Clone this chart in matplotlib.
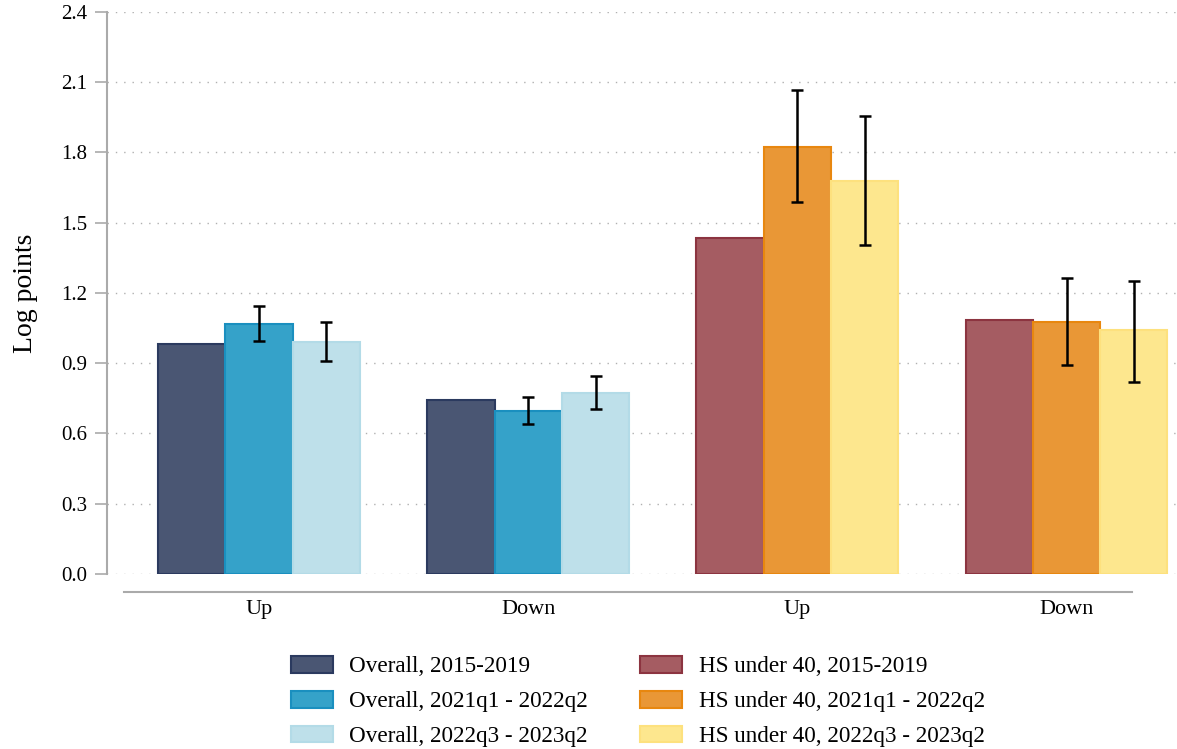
import numpy as np
import matplotlib
matplotlib.use("Agg")
import matplotlib.pyplot as plt

plt.rcParams['font.family'] = ['Liberation Serif', 'DejaVu Serif']

# data
categories = ["Up", "Down", "Up", "Down"]
series_labels = ["2015-2019", "2021q1 - 2022q2", "2022q3 - 2023q2"]

overall_vals = [[0.982, 0.743], [1.067, 0.696], [0.990, 0.773]]
overall_lo = [[None, None], [0.995, 0.640], [0.909, 0.705]]
overall_hi = [[None, None], [1.144, 0.756], [1.076, 0.845]]

hs_vals = [[1.435, 1.085], [1.823, 1.076], [1.678, 1.042]]
hs_lo = [[None, None], [1.588, 0.892], [1.405, 0.820]]
hs_hi = [[None, None], [2.067, 1.264], [1.956, 1.251]]

overall_fill = ["#4a5673", "#35a2c9", "#bee0ea"]
overall_edge = ["#2b3a5f", "#1a8fbf", "#b3dbe7"]
hs_fill = ["#a55c62", "#e99736", "#fde78e"]
hs_edge = ["#8c3440", "#e8870f", "#fde17e"]

fig = plt.figure(figsize=(11.77, 7.49), dpi=100)
ax = fig.add_axes([0.0909, 0.234, 0.909, 0.75])

width = 0.25
handles_o = []
handles_h = []
for i in range(3):
    off = (i - 1) * width
    x_o = np.array([0, 1]) + off
    x_h = np.array([2, 3]) + off
    b = ax.bar(x_o, overall_vals[i], width, color=overall_fill[i],
               edgecolor=overall_edge[i], linewidth=1.5, zorder=3,
               label="Overall, " + series_labels[i])
    handles_o.append(b)
    b = ax.bar(x_h, hs_vals[i], width, color=hs_fill[i],
               edgecolor=hs_edge[i], linewidth=1.5, zorder=3,
               label="HS under 40, " + series_labels[i])
    handles_h.append(b)
    # error bars only for the two later periods
    if overall_lo[i][0] is not None:
        for xs, lo, hi in [(x_o, overall_lo[i], overall_hi[i]),
                           (x_h, hs_lo[i], hs_hi[i])]:
            mid = [(l + h) / 2 for l, h in zip(lo, hi)]
            err = [(h - l) / 2 for l, h in zip(lo, hi)]
            ax.errorbar(xs, mid, yerr=err, fmt='none', ecolor='black',
                        elinewidth=1.8, capsize=4.5, capthick=1.8, zorder=4)

for s in ['top', 'right']:
    ax.spines[s].set_visible(False)
ax.spines['left'].set_color('#aaaaaa')
ax.spines['left'].set_linewidth(1.5)
ax.spines['bottom'].set_color('#aaaaaa')
ax.spines['bottom'].set_linewidth(1.5)
ax.spines['bottom'].set_position(('outward', 13))
ax.spines['bottom'].set_bounds(-0.5, 3.245)

ax.set_ylim(0, 2.4)
ax.set_xlim(-0.565, 3.41)
ax.set_yticks(np.arange(0, 2.41, 0.3))
ax.set_yticklabels([f"{v:.1f}" for v in np.arange(0, 2.41, 0.3)])
ax.set_xticks(range(4))
ax.set_xticklabels(categories)
ax.tick_params(axis='x', length=0, pad=6, labelsize=16)
ax.tick_params(axis='y', length=9, width=1.2, color='#aaaaaa', pad=5, labelsize=15)
ax.set_ylabel("Log points", fontsize=20, labelpad=17)

ax.yaxis.grid(True, linestyle=(0, (1, 5)), color='#b0b0b0', linewidth=1.0, zorder=0)
ax.set_axisbelow(True)

handles = handles_o + handles_h
labels = [h.get_label() for h in handles]
fig.legend(handles, labels, loc='upper left', bbox_to_anchor=(0.2472, 0.1243),
           ncol=2, frameon=False, fontsize=16.7, handlelength=1.81, handleheight=0.75,
           columnspacing=2.25, labelspacing=0.57, handletextpad=0.71,
           borderpad=0, borderaxespad=0)

fig.savefig("out.png", dpi=100)
